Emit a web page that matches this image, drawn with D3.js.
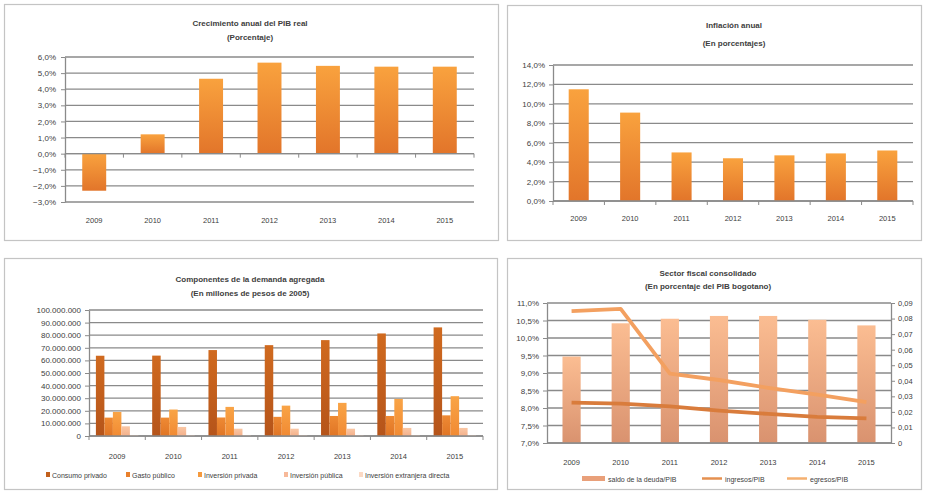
<!DOCTYPE html>
<html><head><meta charset="utf-8">
<script src="https://cdn.jsdelivr.net/npm/d3@7"></script>
<style>
body{margin:0;background:#fff}
svg{display:block}
text{font-family:"Liberation Sans",Arial,sans-serif;fill:#404040}
</style>
</head><body>
<svg id="c" width="925" height="492"></svg>
<script>
// ---------- DATA ----------
const years = ["2009","2010","2011","2012","2013","2014","2015"];

// Crecimiento anual del PIB real (%)
const pibGrowth = [-2.3, 1.2, 4.65, 5.65, 5.45, 5.4, 5.4];
const pibTicks = [-3,-2,-1,0,1,2,3,4,5,6];

// Inflación anual (%)
const inflation = [11.5, 9.1, 5.0, 4.4, 4.7, 4.9, 5.2];
const inflTicks = [0,2,4,6,8,10,12,14];

// Componentes de la demanda agregada (millones de pesos de 2005)
const demandSeries = ["Consumo privado","Gasto público","Inversión privada","Inversión pública","Inversión extranjera directa"];
const consumoPrivado  = [63700000, 63800000, 68200000, 72100000, 76100000, 81400000, 86200000];
const gastoPublico    = [14600000, 14600000, 14700000, 15200000, 15900000, 15900000, 16400000];
const inversionPriv   = [19100000, 21000000, 23100000, 24100000, 26300000, 29400000, 31600000];
const inversionPub    = [7700000, 7200000, 5800000, 5800000, 5800000, 6400000, 6400000];
const inversionIED    = [800000, 800000, 700000, 700000, 700000, 800000, 800000];
const demandTicks = [0,10000000,20000000,30000000,40000000,50000000,60000000,70000000,80000000,90000000,100000000];

// Sector fiscal consolidado
const fiscalSeries = ["saldo de la deuda/PIB","ingresos/PIB","egresos/PIB"];
const saldoDeuda = [9.47, 10.42, 10.55, 10.63, 10.63, 10.52, 10.36];   // left axis (%)
const ingresos   = [0.026, 0.0253, 0.0235, 0.0208, 0.0187, 0.0168, 0.0158]; // right axis
const egresos    = [0.0848, 0.0862, 0.0446, 0.0405, 0.0355, 0.0311, 0.0262]; // right axis
const fiscalLeftTicks = [7,7.5,8,8.5,9,9.5,10,10.5,11];
const fiscalRightTicks = [0,0.01,0.02,0.03,0.04,0.05,0.06,0.07,0.08,0.09];

// ---------- HELPERS ----------
const loc = d3.formatLocale({decimal:",", thousands:".", grouping:[3], currency:["",""]});
const fmtPct1 = d => loc.format(".1f")(d) + "%";
const fmtThousands = loc.format(",.0f");
const fmtRight = d => d === 0 ? "0" : loc.format(".2f")(d);

const svg = d3.select("#c");
svg.append("rect").attr("width",925).attr("height",492).attr("fill","#fff");
const defs = svg.append("defs");
function grad(id, top, bottom){
  const g = defs.append("linearGradient").attr("id",id).attr("x1",0).attr("y1",0).attr("x2",0).attr("y2",1);
  g.append("stop").attr("offset","0%").attr("stop-color",top);
  g.append("stop").attr("offset","100%").attr("stop-color",bottom);
}
grad("gOr", "#f9a23e", "#e2752a");
grad("gC", "#d06a1f", "#b5541a");
grad("gG", "#ee8a34", "#e07525");
grad("gIP", "#f9a446", "#f18a33");
grad("gIPub", "#f9c7a5", "#f4b08a");
grad("gIED", "#fde3d0", "#fbd5bb");
grad("gDebt", "#fbbd92", "#d9926f");

const GRID = "#8a8a8a", AXIS = "#8a8a8a";

function panel(x0,y0,x1,y1){
  svg.append("rect").attr("x",x0+0.5).attr("y",y0+0.5).attr("width",x1-x0).attr("height",y1-y0)
    .attr("fill","#fff").attr("stroke","#c4c4c4").attr("stroke-width",1.2);
}
function title(cx, b1, b2, t1, t2){
  [ [b1,t1],[b2,t2] ].forEach(([b,t])=>{
    svg.append("text").attr("x",cx).attr("y",b).attr("text-anchor","middle")
      .attr("font-size",8).attr("font-weight","bold").attr("fill","#333").text(t);
  });
}
function gridLines(y, ticks, x0, x1){
  svg.append("g").selectAll("line").data(ticks).join("line")
    .attr("x1",x0).attr("x2",x1).attr("y1",d=>y(d)).attr("y2",d=>y(d))
    .attr("stroke",GRID).attr("stroke-width",1.3);
}
function leftAxis(y, ticks, xPos, fmt, pad){
  const g = svg.append("g").attr("transform",`translate(${xPos},0)`)
    .call(d3.axisLeft(y).tickValues(ticks).tickFormat(fmt).tickSizeInner(4).tickSizeOuter(0).tickPadding(pad));
  g.select(".domain").attr("stroke",AXIS).attr("stroke-width",1.3);
  g.selectAll(".tick line").attr("stroke",AXIS);
  g.selectAll(".tick text").attr("font-size",8).attr("fill","#404040").attr("font-family","Liberation Sans, Arial, sans-serif");
  return g;
}
function catAxis(x, yPos, labelY){
  const [r0, r1] = x.range();
  svg.append("line").attr("x1",r0).attr("x2",r1).attr("y1",yPos).attr("y2",yPos).attr("stroke",AXIS).attr("stroke-width",1.3);
  const bounds = d3.range(years.length+1).map(i => r0 + i*x.step());
  svg.append("g").selectAll("line").data(bounds).join("line")
    .attr("x1",d=>d).attr("x2",d=>d).attr("y1",yPos).attr("y2",yPos+4).attr("stroke",AXIS);
  svg.append("g").selectAll("text").data(years).join("text")
    .attr("x",d=>x(d)+x.bandwidth()/2).attr("y",labelY).attr("text-anchor","middle")
    .attr("font-size",7.5).text(d=>d);
}

// ---------- PANEL 1: Crecimiento anual del PIB real ----------
panel(4,4,498,240);
title(250, 25.5, 40, "Crecimiento anual del PIB real", "(Porcentaje)");
{
  const x = d3.scaleBand().domain(years).range([65,474]).paddingInner(0.59).paddingOuter(0.295);
  const y = d3.scaleLinear().domain([-3,6]).range([202,57]);
  gridLines(y, pibTicks, 65, 474);
  svg.append("g").selectAll("rect").data(years).join("rect")
    .attr("x",d=>x(d)).attr("width",x.bandwidth())
    .attr("y",(d,i)=>y(Math.max(0,pibGrowth[i])))
    .attr("height",(d,i)=>Math.abs(y(pibGrowth[i])-y(0)))
    .attr("fill","url(#gOr)");
  leftAxis(y, pibTicks, 65, fmtPct1, 5);
  catAxis(x, y(0), 223);
  // relabel: category labels positioned at the bottom already
}

// ---------- PANEL 2: Inflación anual ----------
panel(507,5,921,240);
title(734, 28, 45.5, "Inflación anual", "(En porcentajes)");
{
  const x = d3.scaleBand().domain(years).range([553,913]).paddingInner(0.61).paddingOuter(0.305);
  const y = d3.scaleLinear().domain([0,14]).range([201,65]);
  gridLines(y, inflTicks, 553, 913);
  svg.append("g").selectAll("rect").data(years).join("rect")
    .attr("x",d=>x(d)).attr("width",x.bandwidth())
    .attr("y",(d,i)=>y(inflation[i])).attr("height",(d,i)=>y(0)-y(inflation[i]))
    .attr("fill","url(#gOr)");
  leftAxis(y, inflTicks, 553, fmtPct1, 4);
  catAxis(x, y(0), 221);
}

// ---------- PANEL 3: Componentes de la demanda agregada ----------
panel(4,258,497,489);
title(250, 282, 295.5, "Componentes de la demanda agregada", "(En  millones de pesos de 2005)");
{
  const seriesVals = [consumoPrivado, gastoPublico, inversionPriv, inversionPub, inversionIED];
  const fills = ["url(#gC)","url(#gG)","url(#gIP)","url(#gIPub)","url(#gIED)"];
  const legendFill = ["#c2601c","#e9802c","#f59a3e","#f7b999","#fbd9c4"];
  const x = d3.scaleBand().domain(years).range([89,483]).paddingInner(0.245).paddingOuter(0.1225);
  const xs = d3.scaleBand().domain(demandSeries).range([0,x.bandwidth()]).padding(0);
  const y = d3.scaleLinear().domain([0,100000000]).range([436,310]);
  gridLines(y, demandTicks, 89, 483);
  const grp = svg.append("g").selectAll("g").data(years).join("g")
    .attr("transform",d=>`translate(${x(d)},0)`);
  grp.selectAll("rect").data((d,i)=>demandSeries.map((s,k)=>({s, v:seriesVals[k][i], k})))
    .join("rect")
    .attr("x",d=>xs(d.s)).attr("width",xs.bandwidth())
    .attr("y",d=>y(d.v)).attr("height",d=>y(0)-y(d.v))
    .attr("fill",d=>fills[d.k]);
  leftAxis(y, demandTicks, 89, fmtThousands, 4);
  catAxis(x, y(0), 458.5);
  const legX = [48,128,200,286,361];
  const lg = svg.append("g").selectAll("g").data(demandSeries).join("g")
    .attr("transform",(d,i)=>`translate(${legX[i]},475)`);
  lg.append("rect").attr("x",-2).attr("y",-3).attr("width",4).attr("height",5).attr("fill",(d,i)=>legendFill[i]);
  lg.append("text").attr("x",4).attr("y",2.5).attr("font-size",7).text(d=>d);
}

// ---------- PANEL 4: Sector fiscal consolidado ----------
panel(507,258,921,489);
title(708, 276, 289, "Sector fiscal consolidado", "(En porcentaje del PIB bogotano)");
{
  const x = d3.scaleBand().domain(years).range([547,891]).paddingInner(0.63).paddingOuter(0.315);
  const yL = d3.scaleLinear().domain([7,11]).range([443,303]);
  const yR = d3.scaleLinear().domain([0,0.09]).range([443,303]);
  gridLines(yL, fiscalLeftTicks, 547, 891);
  svg.append("g").selectAll("rect").data(years).join("rect")
    .attr("x",d=>x(d)).attr("width",x.bandwidth())
    .attr("y",(d,i)=>yL(saldoDeuda[i])).attr("height",(d,i)=>yL(7)-yL(saldoDeuda[i]))
    .attr("fill","url(#gDebt)");
  const cx = d => x(d)+x.bandwidth()/2;
  const lineIng = d3.line().x((d,i)=>cx(years[i])).y(d=>yR(d));
  svg.append("path").datum(ingresos).attr("d",lineIng).attr("fill","none")
    .attr("stroke","#d97c3c").attr("stroke-width",3.8).attr("stroke-linejoin","round");
  svg.append("path").datum(egresos).attr("d",lineIng).attr("fill","none")
    .attr("stroke","#f3a060").attr("stroke-width",3.8).attr("stroke-linejoin","round");
  leftAxis(yL, fiscalLeftTicks, 547, fmtPct1, 4);
  const gr = svg.append("g").attr("transform","translate(891,0)")
    .call(d3.axisRight(yR).tickValues(fiscalRightTicks).tickFormat(fmtRight).tickSizeInner(4).tickSizeOuter(0).tickPadding(3));
  gr.select(".domain").attr("stroke",AXIS).attr("stroke-width",1.3);
  gr.selectAll(".tick line").attr("stroke",AXIS);
  gr.selectAll(".tick text").attr("font-size",7.5).attr("fill","#404040").attr("font-family","Liberation Sans, Arial, sans-serif");
  // x axis at bottom
  svg.append("line").attr("x1",547).attr("x2",891).attr("y1",yL(7)).attr("y2",yL(7)).attr("stroke",AXIS).attr("stroke-width",1.3);
  svg.append("g").selectAll("text").data(years).join("text")
    .attr("x",d=>cx(d)).attr("y",465).attr("text-anchor","middle").attr("font-size",7.5).text(d=>d);
  // legend
  const lg = svg.append("g");
  lg.append("rect").attr("x",582).attr("y",476).attr("width",23).attr("height",5).attr("fill","#e9a07a");
  lg.append("text").attr("x",608).attr("y",481.5).attr("font-size",7).text(fiscalSeries[0]);
  lg.append("line").attr("x1",702).attr("x2",722).attr("y1",478.5).attr("y2",478.5).attr("stroke","#e59050").attr("stroke-width",2.5);
  lg.append("text").attr("x",725).attr("y",481.5).attr("font-size",7).text(fiscalSeries[1]);
  lg.append("line").attr("x1",787).attr("x2",807).attr("y1",478.5).attr("y2",478.5).attr("stroke","#f5b070").attr("stroke-width",2.5);
  lg.append("text").attr("x",810).attr("y",481.5).attr("font-size",7).text(fiscalSeries[2]);
}
</script>
</body></html>
